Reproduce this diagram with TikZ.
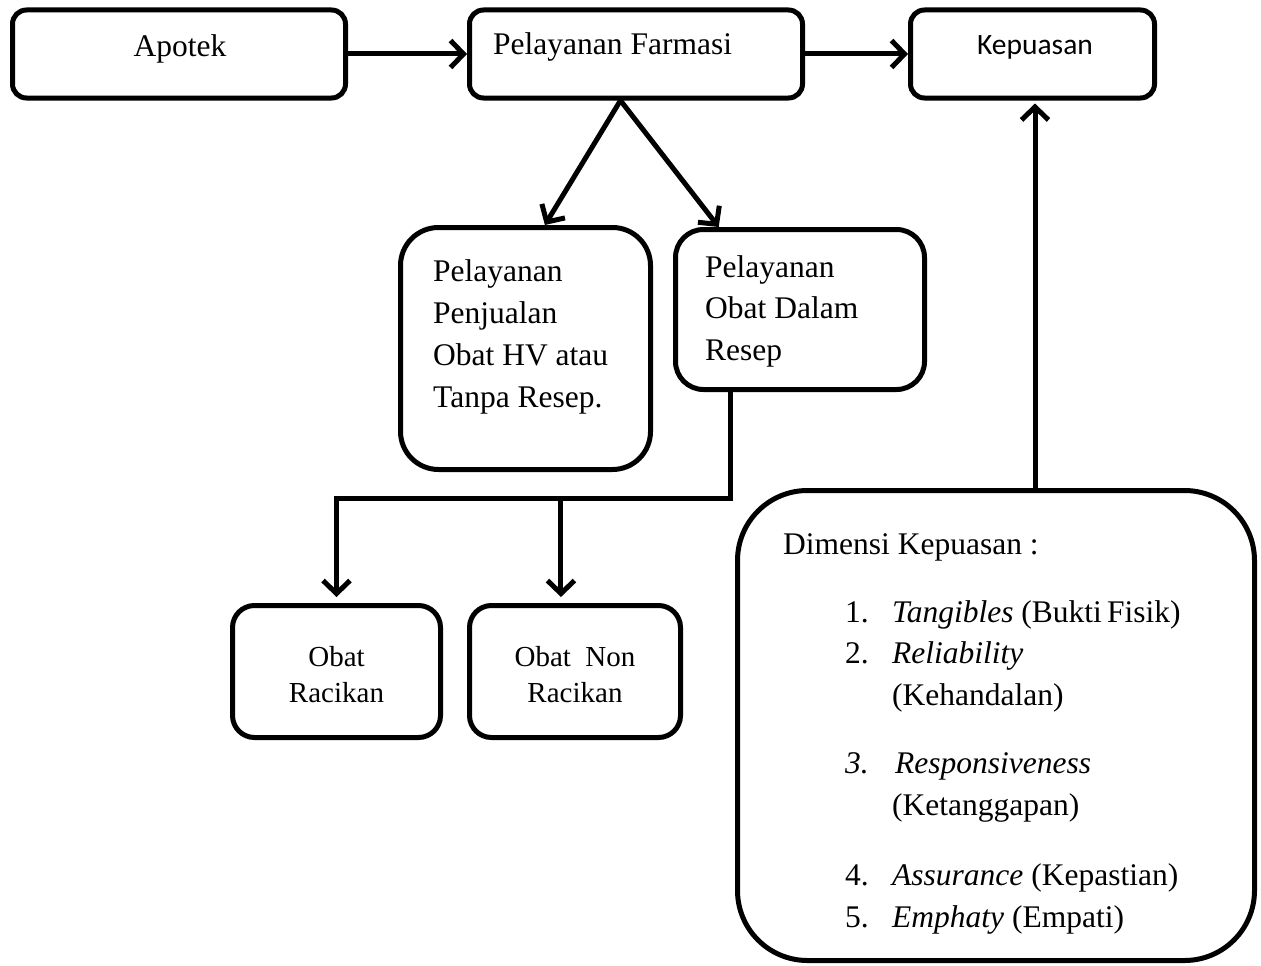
\documentclass[tikz,border=0pt]{standalone}
\usepackage{fontspec}
\setmainfont{Liberation Serif}
\newfontfamily\calibrifont{Carlito}
\usetikzlibrary{arrows.meta,calc}
\begin{document}
\begin{tikzpicture}[x=1pt,y=-1pt,
  box/.style={draw, line width=5pt, rounded corners=#1, inner sep=0pt, fill=white},
  box/.default=14pt,
  conn/.style={line width=5pt, -{Straight Barb[length=13pt,width=27pt,line width=5pt]}},
  plain/.style={line width=5pt},
  txt/.style={anchor=base west, inner sep=0pt, font=\fontsize{31.5}{41}\selectfont},
  txtc/.style={anchor=base, inner sep=0pt, font=\fontsize{29}{35}\selectfont},
]
\useasboundingbox (0,0) rectangle (1261,966);
% boxes
\node[box, minimum width=333pt, minimum height=88pt] (apotek) at (179,54) {};
\node[box, minimum width=333pt, minimum height=88pt] (pf) at (636,54) {};
\node[box, minimum width=244pt, minimum height=88pt] (kep) at (1032.5,54) {};
\node[box=38pt, minimum width=250pt, minimum height=242pt] (penj) at (525.5,348.5) {};
\node[box=28pt, minimum width=249pt, minimum height=160pt] (ores) at (800,309.5) {};
\node[box=22pt, minimum width=208pt, minimum height=132pt] (rac) at (336.5,671.5) {};
\node[box=22pt, minimum width=211pt, minimum height=132pt] (nrac) at (575,671.5) {};
\node[box=70pt, minimum width=517pt, minimum height=470pt] (dim) at (996,725.5) {};
% texts
\node[txt, anchor=base] (tapotek) at (180,57) {Apotek};
\node[txt] (tpf) at (493,55) {Pelayanan Farmasi};
\node[anchor=base, inner sep=0pt, font=\calibrifont\fontsize{29.5}{34}\selectfont] (tkep) at (1035,55) {Kepuasan};
\node[txt] (tp1) at (433,281) {Pelayanan};
\node[txt] (tp2) at (433,323) {Penjualan};
\node[txt] (tp3) at (433,365) {Obat HV atau};
\node[txt] (tp4) at (433,407) {Tanpa Resep.};
\node[txt] (to1) at (705,277) {Pelayanan};
\node[txt] (to2) at (705,318) {Obat Dalam};
\node[txt] (to3) at (705,360) {Resep};
\node[txtc] (tr1) at (336.5,666) {Obat};
\node[txtc] (tr2) at (336.5,702) {Racikan};
\node[txtc] (tn1) at (575,666) {Obat\ \ Non};
\node[txtc] (tn2) at (575,702) {Racikan};
\node[txt] (td) at (783,554) {Dimensi Kepuasan :};
\node[txt] (n1) at (845,622) {1.};
\node[txt] (i1) at (892,622) {\textit{Tangibles} (Bukti\,Fisik)};
\node[txt] (n2) at (845,663) {2.};
\node[txt] (i2) at (892,663) {\textit{Reliability}};
\node[txt] (i2b) at (892,705) {(Kehandalan)};
\node[txt] (n3) at (845,773) {\textit{3.}};
\node[txt] (i3) at (895,773) {\textit{Responsiveness}};
\node[txt] (i3b) at (892,815) {(Ketanggapan)};
\node[txt] (n4) at (845,885) {4.};
\node[txt] (i4) at (892,885) {\textit{Assurance} (Kepastian)};
\node[txt] (n5) at (845,927) {5.};
\node[txt] (i5) at (892,927) {\textit{Emphaty} (Empati)};
% connectors
\draw[conn] (apotek.east) -- (pf.west);
\draw[conn] (pf.east) -- (kep.west);
\coordinate (apex) at ($(pf.south west)!0.454!(pf.south east)$);
\draw[conn] (apex) -- ($(penj.north west)!0.576!(penj.north east)$);
\draw[conn] (apex) -- ($(ores.north west)!0.18!(ores.north east)$);
\coordinate (oresb) at ($(ores.south west)!0.225!(ores.south east)$);
\coordinate (split) at (0,498);
\coordinate (racTop) at ($(rac.north west)!0.5!(rac.north east)$);
\coordinate (nracTop) at ($(nrac.north west)!0.435!(nrac.north east)$);
\draw[plain, line join=miter] (oresb) |- (split -| racTop) -- ++(0,2);
\draw[conn, shorten >=6pt] (split -| racTop) -- (racTop);
\draw[conn, shorten >=6pt] (split -| nracTop) -- (nracTop);
\coordinate (dimTop) at (1035,488);
\draw[conn, shorten >=3pt] (dim.north -| dimTop) -- (kep.south -| dimTop);
\end{tikzpicture}
\end{document}
